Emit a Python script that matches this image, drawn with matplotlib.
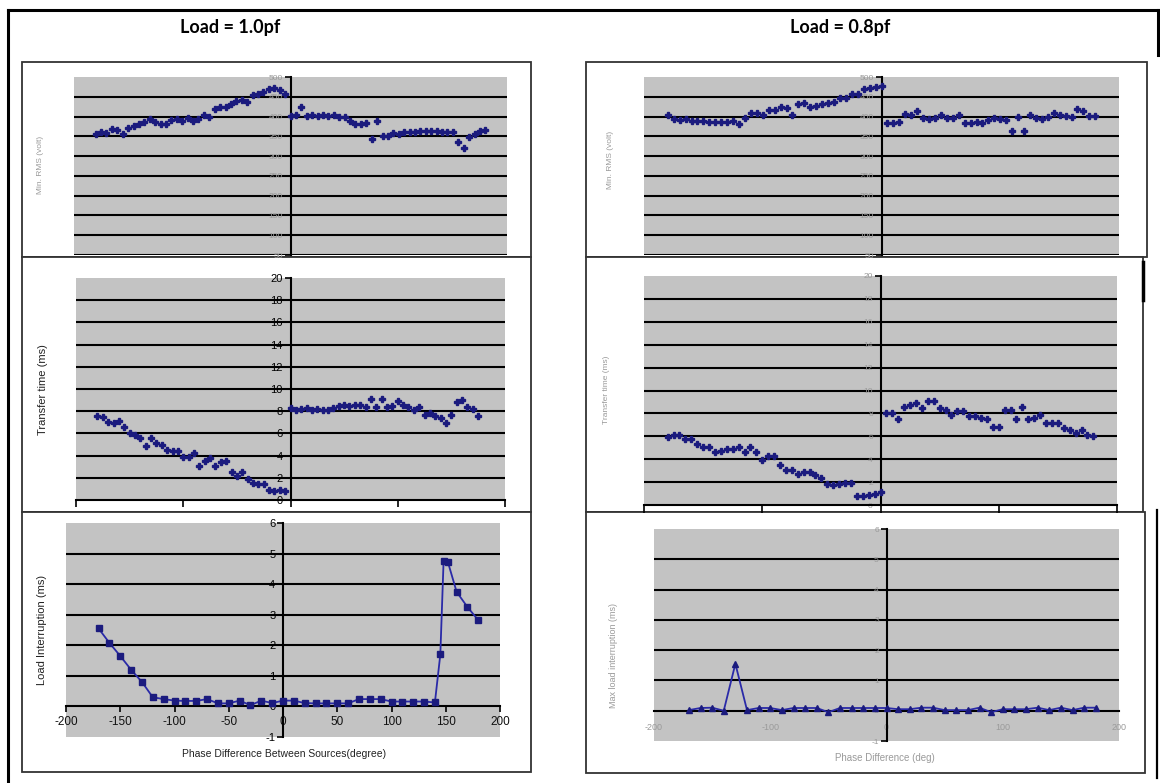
import matplotlib
matplotlib.use("Agg")
import matplotlib.pyplot as plt
from matplotlib.patches import Rectangle
from matplotlib.lines import Line2D

plt.rcParams['font.family'] = ['Liberation Sans', 'DejaVu Sans']

# ---------------- data ----------------
headers = ["Load = 1.0pf", "Load = 0.8pf"]

# Min RMS voltage, 1.0 pf
rms10_x = list(range(-180, 185, 5))
rms10_y = [357, 360, 358, 368, 366, 355, 370, 375, 380, 385,
           394, 386, 380, 382, 392, 394, 390, 396, 388, 395,
           404, 400, 418, 425, 424, 432, 440, 442, 438, 455,
           458, 462, 470, 472, 468, 458,
           402, 404, 424, 402, 404, 402, 404, 402, 404, 400,
           398, 388, 382, 380, 384, 343, 390, 350, 352, 358,
           357, 362, 360, 362, 364, 364, 364, 364, 362, 362,
           360, 335, 320, 348, 356, 364, 366]

# Min RMS voltage, 0.8 pf
rms08_x = list(range(-180, 185, 5))
rms08_y = [404, 393, 392, 393, 390, 390, 389, 387, 386, 387,
           386, 388, 381, 396, 410, 408, 404, 417, 416, 424,
           422, 404, 433, 434, 424, 426, 432, 434, 436, 446,
           448, 456, 458, 470, 473, 474, 476,
           383, 384, 386, 407, 405, 413, 396, 395, 396, 404,
           396, 397, 404, 384, 383, 385, 384, 392, 396, 394,
           391, 364, 398, 364, 404, 396, 394, 398, 410, 404,
           402, 400, 419, 413, 402, 401]

# Transfer time, 1.0 pf
tt10_x = list(range(-180, 180, 5))
tt10_y = [7.6, 7.5, 7.0, 6.9, 7.1, 6.6, 6.0, 5.9, 5.6, 4.9,
          5.6, 5.1, 5.0, 4.5, 4.4, 4.4, 3.9, 3.9, 4.2, 3.1,
          3.5, 3.8, 3.1, 3.4, 3.5, 2.5, 2.2, 2.5, 1.9, 1.5,
          1.4, 1.4, 0.9, 0.8, 0.9, 0.85,
          8.3, 8.1, 8.2, 8.3, 8.1, 8.2, 8.1, 8.1, 8.3, 8.5,
          8.6, 8.5, 8.6, 8.6, 8.4, 9.1, 8.4, 9.1, 8.4, 8.5,
          8.9, 8.6, 8.4, 8.1, 8.4, 7.7, 7.8, 7.6, 7.4, 6.9,
          7.7, 8.8, 9.0, 8.4, 8.2, 7.6]

# Transfer time, 0.8 pf
tt08_x = list(range(-180, 185, 5))
tt08_y = [5.9, 6.1, 6.1, 5.8, 5.8, 5.3, 5.1, 5.1, 4.6, 4.7,
          4.85, 4.9, 5.1, 4.6, 5.1, 4.6, 3.95, 4.25, 4.25, 3.5,
          3.1, 3.1, 2.7, 2.85, 2.85, 2.6, 2.35, 1.8, 1.75, 1.8,
          1.9, 1.9, 0.8, 0.75, 0.9, 0.95, 1.1,
          8.05, 8.0, 7.55, 8.6, 8.7, 8.95, 8.5, 9.1, 9.05, 8.45,
          8.3, 7.9, 8.25, 8.2, 7.8, 7.75, 7.6, 7.5, 6.8, 6.85,
          8.3, 8.3, 7.55, 8.6, 7.55, 7.6, 7.85, 7.15, 7.2, 7.2,
          6.7, 6.55, 6.3, 6.55, 6.1, 6.0]

# Load interruption, 1.0 pf
li10_x = list(range(-170, 150, 10)) + [145, 148, 152, 160, 170, 180]
li10_y = [2.55, 2.08, 1.65, 1.2, 0.8, 0.3, 0.24, 0.19, 0.18, 0.18,
          0.24, 0.1, 0.1, 0.19, 0.04, 0.19, 0.11, 0.19, 0.19, 0.11,
          0.1, 0.1, 0.1, 0.1, 0.24, 0.24, 0.24, 0.16, 0.16, 0.16,
          0.16, 0.13,
          1.7, 4.75, 4.72, 3.75, 3.25, 2.82]

# Max load interruption, 0.8 pf
li08_x = list(range(-170, 190, 10))
li08_y = [0.02, 0.09, 0.10, 0.0, 1.55, 0.02, 0.09, 0.09, 0.02, 0.09,
          0.09, 0.09, -0.05, 0.09, 0.09, 0.09, 0.09, 0.09, 0.05, 0.05,
          0.10, 0.10, 0.02, 0.02, 0.02, 0.10, -0.05, 0.05, 0.05, 0.05,
          0.10, 0.02, 0.10, 0.02, 0.10, 0.10]

rms_ticks = [50, 100, 150, 200, 250, 300, 350, 400, 450, 500]
tt_ticks = [0, 2, 4, 6, 8, 10, 12, 14, 16, 18, 20]
li_ticks = [-1, 0, 1, 2, 3, 4, 5, 6]
x_ticks_l = [-200, -150, -100, -50, 0, 50, 100, 150, 200]
x_ticks_r = [-200, -100, 0, 100, 200]

ylabels = ["Min. RMS (volt)", "Transfer time (ms)", "Load Interruption (ms)",
           "Min. RMS (volt)", "Transfer time (ms)", "Max load interruption (ms)"]
xlabels = ["Phase Difference Between Sources(degree)", "Phase Difference (deg)"]

# ---------------- layout helpers ----------------
W, H = 1160, 783
fig = plt.figure(figsize=(W / 100, H / 100), dpi=100)
fig.patch.set_facecolor('white')

GRAY = '#c3c3c3'
NAVY = '#1b1b7e'
LINEC = '#2a2aa8'
LIGHT = '#9a9a9a'


def fr(x0, y0, x1, y1):
    return [x0 / W, 1 - y1 / H, (x1 - x0) / W, (y1 - y0) / H]


def box(x0, y0, x1, y1, lw=1.3, ec='#333333'):
    fig.patches.append(Rectangle((x0 / W, 1 - y1 / H), (x1 - x0) / W, (y1 - y0) / H,
                                 transform=fig.transFigure, facecolor='white',
                                 edgecolor=ec, lw=lw, zorder=-1))


def fline(xs, ys, lw=2.0, color='black'):
    fig.add_artist(Line2D([x / W for x in xs], [1 - y / H for y in ys],
                          lw=lw, color=color, zorder=10))


def ftext(x, y, s, **kw):
    fig.text(x / W, 1 - y / H, s, **kw)


def make_ax(rect, ylim, yticks, grid, lcolor, lsize):
    ax = fig.add_axes(fr(*rect))
    ax.set_zorder(1)
    ax.set_facecolor(GRAY)
    ax.set_xlim(-200, 200)
    ax.set_ylim(*ylim)
    for s in ['top', 'right', 'bottom']:
        ax.spines[s].set_visible(False)
    ax.spines['left'].set_position(('data', 0))
    ax.spines['left'].set_linewidth(1.5)
    ax.set_yticks(yticks)
    ax.set_yticklabels([str(t) for t in yticks])
    ax.tick_params(axis='y', direction='out', length=4, width=1.2,
                   labelsize=lsize, labelcolor=lcolor, pad=1.5)
    ax.set_xticks([])
    for g in grid:
        ax.axhline(g, color='black', lw=1.5, zorder=1)
    return ax


# ---------------- frame ----------------
fline([8, 1158], [10, 10], lw=2.2)
fline([8, 8], [10, 783], lw=2.2)
fline([1158, 1158], [10, 55], lw=2.2)
fline([1143, 1143], [262, 300], lw=2.5)
fline([1157, 1157], [510, 778], lw=1.6)

ftext(230, 28, headers[0], fontsize=13, fontweight='bold', family='Lato',
      ha='center', va='center')
ftext(840, 28, headers[1], fontsize=13, fontweight='bold', family='Lato',
      ha='center', va='center')

# chart area boxes
box(22, 62, 531, 257)
box(22, 257, 531, 512)
box(22, 512, 531, 772)
box(586, 62, 1147, 257)
box(586, 257, 1143, 512)
box(586, 512, 1145, 773)

# ---------------- left column ----------------
ax = make_ax((74, 77, 507, 255), (50, 500), rms_ticks, rms_ticks[:-1], LIGHT, 6)
ax.plot(rms10_x, rms10_y, ls='none', marker='P', ms=5, color=NAVY, mec=NAVY, zorder=3)
ftext(40, 165, ylabels[0], rotation=90, fontsize=6, color=LIGHT, ha='center', va='center')

ax = make_ax((76, 278, 505, 500), (0, 20), tt_ticks, tt_ticks[1:-1], 'black', 8)
ax.spines['bottom'].set_visible(True)
ax.spines['bottom'].set_linewidth(1.5)
ax.set_xticks(x_ticks_r)
ax.tick_params(axis='x', direction='out', length=5, width=1.2, labelbottom=False)
ax.plot(tt10_x, tt10_y, ls='none', marker='P', ms=5, color=NAVY, mec=NAVY, zorder=3)
ftext(43, 390, ylabels[1], rotation=90, fontsize=8, color='#222222', ha='center', va='center')

ax = make_ax((66, 523, 500, 737), (-1, 6), li_ticks, [1, 2, 3, 4, 5], 'black', 8)
ax.spines['bottom'].set_visible(True)
ax.spines['bottom'].set_position(('data', 0))
ax.spines['bottom'].set_linewidth(1.5)
ax.set_xticks(x_ticks_l)
ax.set_xticklabels([str(t) for t in x_ticks_l])
ax.tick_params(axis='x', direction='out', length=4, width=1.2, labelsize=8.5,
               labelcolor='#111111', pad=3)
ax.plot(li10_x, li10_y, ls='-', lw=1.3, color=LINEC, marker='s', ms=5,
        mfc=NAVY, mec=NAVY, zorder=3)
ftext(42, 630, ylabels[2], rotation=90, fontsize=8, color='#222222', ha='center', va='center')
ftext(284, 754, xlabels[0], fontsize=7.5, color='#222222', ha='center', va='center')

# ---------------- right column ----------------
ax = make_ax((644, 77, 1119, 255), (50, 500), rms_ticks, rms_ticks[:-1], LIGHT, 6)
ax.plot(rms08_x, rms08_y, ls='none', marker='P', ms=5, color=NAVY, mec=NAVY, zorder=3)
ftext(610, 160, ylabels[3], rotation=90, fontsize=6, color=LIGHT, ha='center', va='center')

ax = make_ax((644, 276, 1117, 505), (0, 20), tt_ticks, tt_ticks[1:-1], LIGHT, 6)
ax.spines['bottom'].set_visible(True)
ax.spines['bottom'].set_linewidth(1.5)
ax.set_xticks(x_ticks_r)
ax.tick_params(axis='x', direction='out', length=6, width=1.2, labelbottom=False)
ax.plot(tt08_x, tt08_y, ls='none', marker='P', ms=5, color=NAVY, mec=NAVY, zorder=3)
ftext(607, 390, ylabels[4], rotation=90, fontsize=6, color=LIGHT, ha='center', va='center')

ax = make_ax((654, 529, 1119, 741), (-1, 6), li_ticks, [1, 2, 3, 4, 5], LIGHT, 6)
ax.spines['bottom'].set_visible(True)
ax.spines['bottom'].set_position(('data', 0))
ax.spines['bottom'].set_linewidth(1.5)
ax.set_xticks(x_ticks_r)
ax.set_xticklabels([str(t) for t in x_ticks_r])
ax.tick_params(axis='x', direction='out', length=0, labelsize=6.5, labelcolor=LIGHT, pad=9)
ax.plot(li08_x, li08_y, ls='-', lw=1.3, color=LINEC, marker='^', ms=4.5,
        mfc=NAVY, mec=NAVY, zorder=3)
ftext(613, 655, ylabels[5], rotation=90, fontsize=6.5, color=LIGHT, ha='center', va='center')
ftext(885, 758, xlabels[1], fontsize=7, color=LIGHT, ha='center', va='center')

fig.savefig('out.png', dpi=100, facecolor='white')
